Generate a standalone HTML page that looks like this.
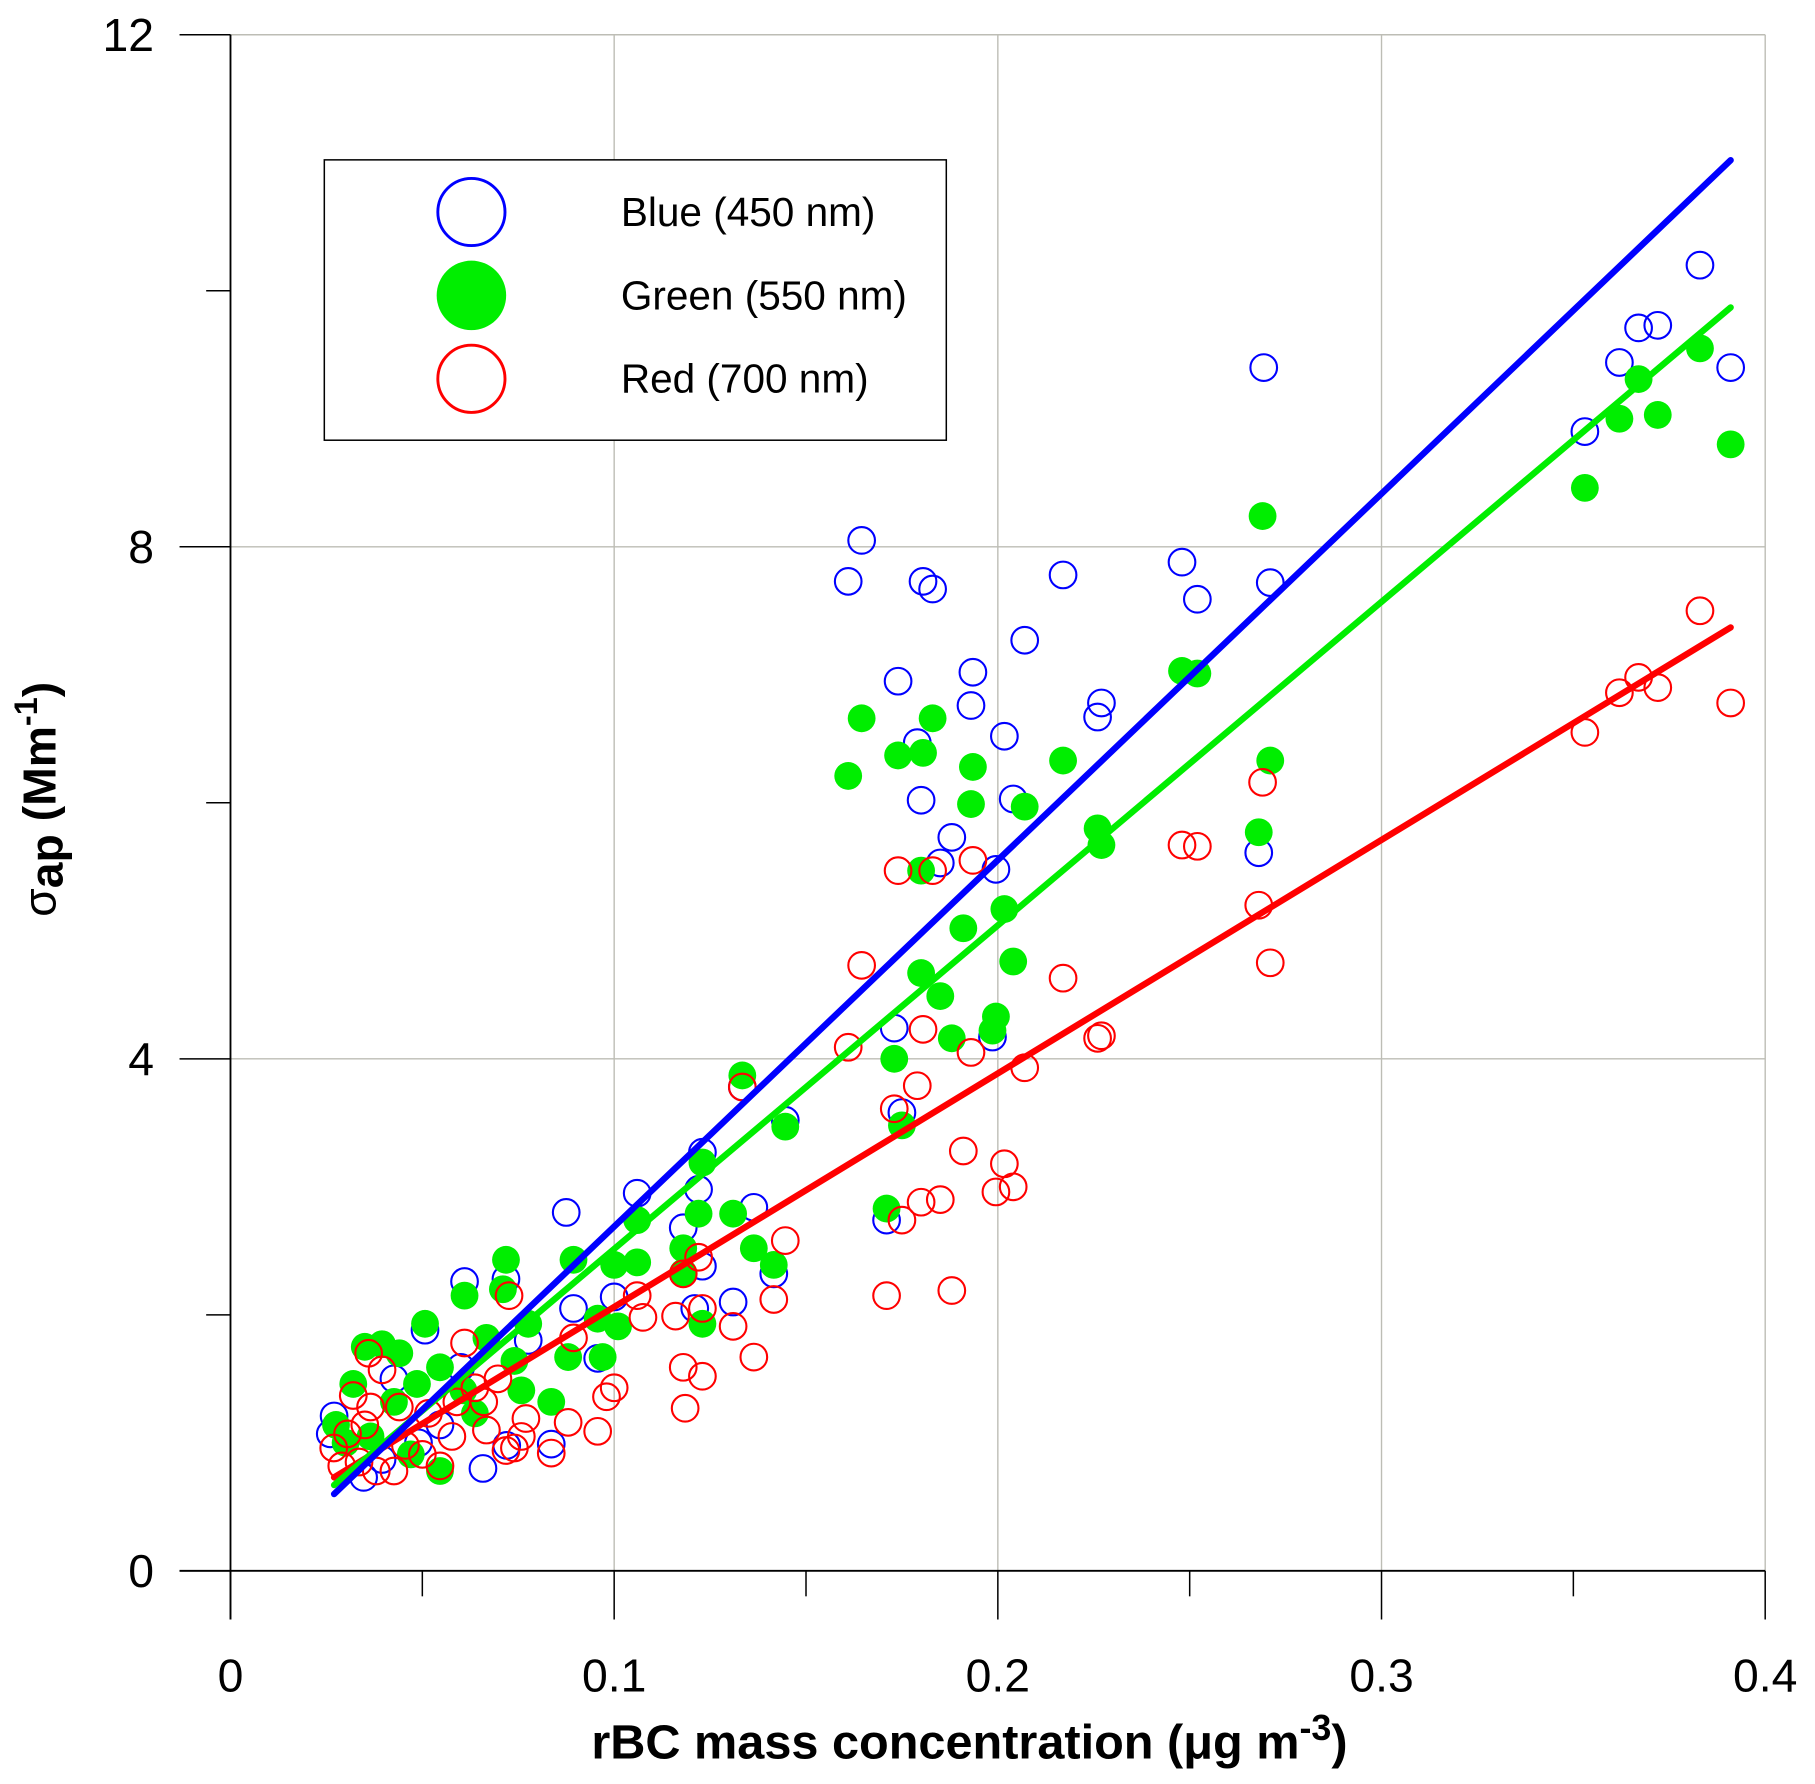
<!DOCTYPE html>
<html><head><meta charset="utf-8"><style>html,body{margin:0;padding:0;background:#fff}svg{display:block}</style></head>
<body>
<svg id="chart" width="1815" height="1784" viewBox="0 0 1567 1540" preserveAspectRatio="none" xmlns="http://www.w3.org/2000/svg" font-family="'Liberation Sans', Arial, sans-serif">
<g id="grid"></g>
<g id="axes"></g>
<g id="marks"></g>
<g id="fits"></g>
<g>
  <rect x="280" y="138" width="537" height="242" fill="#fff" stroke="#000" stroke-width="1.3"/>
  <circle cx="407" cy="183" r="29" fill="none" stroke="#0000ff" stroke-width="2.5"/>
  <text x="536" y="195" font-size="35">Blue (450 nm)</text>
  <circle cx="407" cy="255" r="30" fill="#00ee00"/>
  <text x="536" y="267" font-size="35">Green (550 nm)</text>
  <circle cx="407" cy="327" r="29" fill="none" stroke="#ff0000" stroke-width="2.5"/>
  <text x="536" y="339" font-size="35">Red (700 nm)</text>
</g>
<text x="837" y="1518" font-size="42" font-weight="bold" text-anchor="middle">rBC mass concentration (μg m<tspan dy="-16" font-size="31">-3</tspan><tspan dy="16">)</tspan></text>
<text transform="translate(48,690) rotate(-90)" font-size="40" text-anchor="middle">σ<tspan font-weight="bold" dy="6">ap</tspan><tspan font-weight="bold" dy="-6"> (Mm</tspan><tspan font-weight="bold" dy="-16" font-size="28">-1</tspan><tspan font-weight="bold" dy="16">)</tspan></text>
</svg>
<script>
const xTicks=[0,0.1,0.2,0.3,0.4];
const xTickLabels=["0","0.1","0.2","0.3","0.4"];
const yTicks=[0,4,8,12];
const yTickLabels=["0","4","8","12"];
const blueX=[0.2693,0.383,0.367,0.372,0.362,0.391,0.353,0.1645,0.161,0.1805,0.183,0.217,0.248,0.252,0.271,0.207,0.174,0.1935,0.193,0.227,0.226,0.2017,0.179,0.180,0.204,0.188,0.1995,0.185,0.268,0.173,0.1986,0.175,0.1334,0.1446,0.123,0.122,0.106,0.0875,0.1364,0.171,0.118,0.123,0.1416,0.061,0.1,0.131,0.0894,0.0718,0.121,0.0957,0.0776,0.0507,0.0658,0.0836,0.027,0.026,0.0347,0.049,0.072,0.0426,0.060,0.0395,0.0546];
const blueY=[9.40,10.20,9.71,9.73,9.44,9.40,8.90,8.05,7.73,7.73,7.67,7.78,7.88,7.59,7.72,7.27,6.95,7.02,6.76,6.78,6.67,6.52,6.47,6.02,6.03,5.73,5.48,5.53,5.61,4.24,4.17,3.58,3.78,3.52,3.27,2.98,2.95,2.80,2.84,2.74,2.68,2.38,2.32,2.26,2.14,2.10,2.05,2.28,2.05,1.66,1.80,1.88,0.80,0.99,1.21,1.07,0.73,1.00,0.98,1.50,1.59,0.87,1.14];
const greenX=[0.383,0.367,0.362,0.372,0.391,0.353,0.269,0.248,0.252,0.1645,0.183,0.174,0.1805,0.217,0.271,0.161,0.1935,0.193,0.207,0.226,0.227,0.268,0.180,0.2017,0.191,0.180,0.185,0.204,0.1995,0.188,0.1986,0.173,0.1334,0.1446,0.175,0.123,0.171,0.106,0.131,0.122,0.118,0.1364,0.1416,0.1,0.106,0.0894,0.0718,0.061,0.071,0.118,0.123,0.0957,0.101,0.0776,0.0507,0.088,0.097,0.0836,0.035,0.0395,0.044,0.032,0.0275,0.030,0.0426,0.0486,0.0546,0.0607,0.0667,0.074,0.0758,0.0546,0.047,0.0365,0.0637];
const greenY=[9.55,9.31,9.00,9.03,8.80,8.46,8.24,7.03,7.01,6.66,6.66,6.37,6.39,6.33,6.33,6.21,6.28,5.99,5.97,5.80,5.67,5.77,5.47,5.17,5.02,4.67,4.49,4.76,4.33,4.16,4.22,4.00,3.87,3.47,3.48,3.19,2.83,2.74,2.79,2.79,2.52,2.52,2.39,2.39,2.41,2.43,2.43,2.15,2.20,2.33,1.93,1.97,1.91,1.93,1.93,1.67,1.67,1.32,1.75,1.77,1.70,1.46,1.14,1.00,1.32,1.46,1.59,1.41,1.82,1.64,1.41,0.78,0.91,1.05,1.23];
const redX=[0.383,0.367,0.362,0.372,0.391,0.353,0.269,0.248,0.252,0.174,0.183,0.1935,0.268,0.271,0.1645,0.217,0.161,0.1805,0.193,0.227,0.226,0.207,0.179,0.173,0.1334,0.191,0.2017,0.204,0.1995,0.180,0.185,0.175,0.1446,0.122,0.118,0.171,0.188,0.1416,0.106,0.131,0.116,0.123,0.1075,0.1364,0.118,0.123,0.1185,0.1,0.098,0.0957,0.0894,0.088,0.061,0.0726,0.0836,0.077,0.0758,0.0718,0.074,0.066,0.0637,0.0577,0.0546,0.050,0.0456,0.0426,0.038,0.0335,0.029,0.0269,0.0305,0.035,0.0365,0.032,0.036,0.0395,0.044,0.0516,0.059,0.0667,0.0697];
const redY=[7.50,6.98,6.86,6.90,6.78,6.55,6.16,5.67,5.66,5.47,5.47,5.55,5.20,4.75,4.73,4.63,4.09,4.23,4.05,4.18,4.16,3.93,3.79,3.61,3.78,3.28,3.18,3.00,2.96,2.88,2.90,2.74,2.58,2.45,2.32,2.15,2.19,2.12,2.15,1.91,1.99,2.05,1.98,1.67,1.59,1.52,1.27,1.43,1.36,1.09,1.82,1.16,1.78,2.15,0.92,1.19,1.05,0.94,0.96,1.32,1.43,1.05,0.82,0.91,0.98,0.78,0.78,0.85,0.82,0.96,1.07,1.14,1.28,1.37,1.70,1.57,1.28,1.23,1.32,1.10,1.50];
const fitXRange=[0.027,0.391];
const blueFit=[0.60,11.02];
const greenFit=[0.67,9.87];
const redFit=[0.73,7.37];

const NS="http://www.w3.org/2000/svg";
const X0=199,X1=1524,Y0=1356,Y1=30;
function sx(v){return X0+(v-0)/(0.4-0)*(X1-X0);}
function sy(v){return Y0-(v-0)/(12-0)*(Y0-Y1);}
function mk(tag,parent,attrs){const e=document.createElementNS(NS,tag);for(const k in attrs)e.setAttribute(k,attrs[k]);parent.appendChild(e);return e;}
const grid=document.getElementById('grid'),axes=document.getElementById('axes'),marks=document.getElementById('marks'),fits=document.getElementById('fits');
xTicks.forEach((t,i)=>{
  if(t>0){const g=mk('line',grid,{x1:sx(t),x2:sx(t),y1:Y1,y2:Y0,stroke:'#bdbdb5','stroke-width':1.2});
  
  }
  const tk=mk('line',axes,{x1:sx(t),x2:sx(t),y1:Y0,y2:Y0+42,stroke:'#000','stroke-width':1.3});
  
  
  const lb=mk('text',axes,{x:sx(t),y:1460,'font-size':40,'text-anchor':'middle'});lb.textContent=xTickLabels[i];
  
  
  if(i<xTicks.length-1){const m=t+0.05;const mt=mk('line',axes,{x1:sx(m),x2:sx(m),y1:Y0,y2:Y0+22,stroke:'#000','stroke-width':1.3});
  
  }
});
yTicks.forEach((t,i)=>{
  if(t>0){const g=mk('line',grid,{x1:X0,x2:X1,y1:sy(t),y2:sy(t),stroke:'#bdbdb5','stroke-width':1.2});
  
  }
  const tk=mk('line',axes,{x1:155,x2:X0,y1:sy(t),y2:sy(t),stroke:'#000','stroke-width':1.3});
  
  
  const lb=mk('text',axes,{x:133,y:sy(t)+14,'font-size':40,'text-anchor':'end'});lb.textContent=yTickLabels[i];
  
  
  if(i<yTicks.length-1){const m=t+2;const mt=mk('line',axes,{x1:178,x2:X0,y1:sy(m),y2:sy(m),stroke:'#000','stroke-width':1.3});
  
  }
});
const xa=mk('line',axes,{x1:155,x2:X1,y1:Y0,y2:Y0,stroke:'#000','stroke-width':1.6});


const ya=mk('line',axes,{x1:X0,x2:X0,y1:Y1,y2:1398,stroke:'#000','stroke-width':1.6});


function series(xs,ys,fill,stroke,name){
  xs.forEach((x,i)=>{
    const c=mk('circle',marks,{cx:sx(x),cy:sy(ys[i]),r:fill==='none'?11.5:12,fill:fill,stroke:stroke,'stroke-width':fill==='none'?1.8:0});
    
    
  });
}
series(blueX,blueY,'none','#0000ff','point-blue');
series(greenX,greenY,'#00ee00','none','point-green');
series(redX,redY,'none','#ff0000','point-red');
function fit(vals,col,name){
  const l=mk('line',fits,{x1:sx(fitXRange[0]),x2:sx(fitXRange[1]),y1:sy(vals[0]),y2:sy(vals[1]),stroke:col,'stroke-width':5.5,'stroke-linecap':'round'});
  
  
}
fit(redFit,'#ff0000','fit-line-red');
fit(greenFit,'#00ee00','fit-line-green');
fit(blueFit,'#0000ff','fit-line-blue');
</script>
</body></html>
